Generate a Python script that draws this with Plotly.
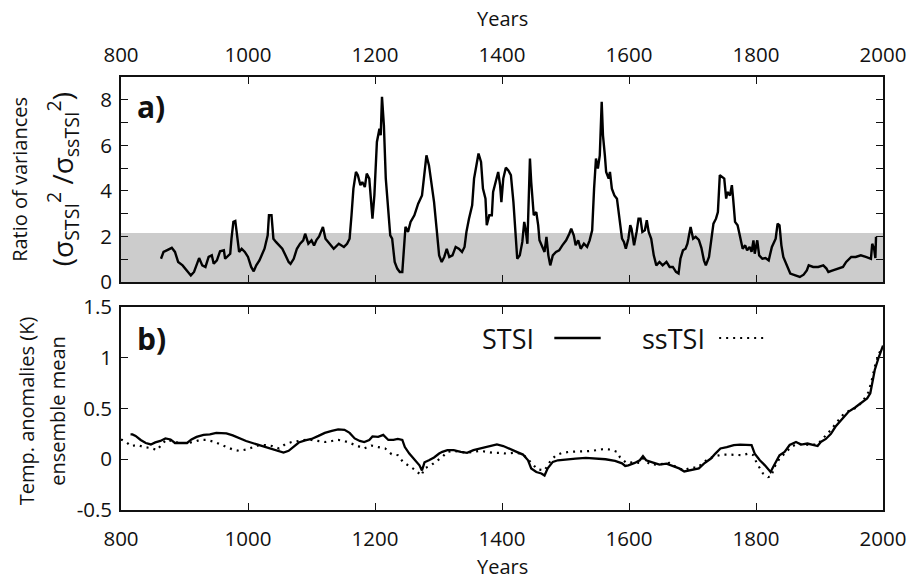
import plotly.graph_objects as go

# ---------------- data ----------------
ratio_years = [863, 867, 872, 880, 885, 890, 897, 905, 910, 915, 920, 923, 928, 933, 938, 943, 946, 951, 956, 962,
               964, 969, 972, 974, 977, 980, 982, 986, 990, 995, 1000, 1005, 1009, 1013, 1018, 1026, 1031, 1033, 1037, 1040,
               1044, 1049, 1054, 1059, 1064, 1067, 1072, 1077, 1082, 1087, 1090, 1095, 1100, 1104, 1108, 1112, 1115, 1118, 1122, 1130,
               1135, 1143, 1151, 1156, 1160, 1163, 1166, 1170, 1173, 1177, 1180, 1184, 1187, 1191, 1194, 1196, 1199, 1203, 1207, 1209,
               1211, 1214, 1217, 1221, 1224, 1227, 1231, 1235, 1239, 1243, 1246, 1248, 1252, 1256, 1262, 1268, 1274, 1278, 1281, 1285,
               1289, 1293, 1297, 1301, 1305, 1309, 1313, 1317, 1322, 1327, 1332, 1337, 1341, 1344, 1348, 1353, 1356, 1361, 1363, 1367,
               1370, 1374, 1376, 1380, 1384, 1386, 1391, 1394, 1397, 1399, 1402, 1406, 1410, 1414, 1418, 1421, 1424, 1428, 1432, 1435,
               1437, 1440, 1444, 1446, 1450, 1454, 1457, 1459, 1463, 1467, 1470, 1473, 1476, 1480, 1485, 1490, 1495, 1501, 1506, 1509,
               1513, 1516, 1520, 1524, 1529, 1534, 1538, 1542, 1545, 1548, 1551, 1554, 1557, 1559, 1562, 1564, 1568, 1570, 1573, 1577,
               1581, 1585, 1589, 1592, 1595, 1599, 1602, 1604, 1608, 1612, 1615, 1618, 1621, 1625, 1628, 1631, 1635, 1639, 1643, 1648,
               1653, 1659, 1664, 1669, 1674, 1678, 1681, 1685, 1689, 1692, 1697, 1701, 1705, 1710, 1714, 1718, 1721, 1726, 1729, 1733,
               1737, 1740, 1743, 1747, 1750, 1753, 1755, 1759, 1762, 1764, 1767, 1771, 1775, 1779, 1783, 1786, 1790, 1793, 1796, 1798,
               1802, 1805, 1810, 1815, 1820, 1825, 1831, 1834, 1837, 1840, 1843, 1849, 1854, 1862, 1869, 1875, 1880, 1883, 1890, 1898,
               1906, 1911, 1914, 1921, 1929, 1937, 1942, 1950, 1957, 1965, 1973, 1981, 1983, 1986, 1988, 1989]
ratio_values = [1.02, 1.32, 1.39, 1.50, 1.32, 0.88, 0.73, 0.44, 0.29, 0.44, 0.88, 1.05, 0.73, 0.66, 1.10, 1.17, 0.80, 0.95, 1.35, 1.39,
                1.02, 1.17, 1.24, 1.90, 2.64, 2.68, 2.20, 1.32, 1.46, 1.32, 1.10, 0.66, 0.47, 0.73, 0.95, 1.46, 2.05, 2.93, 2.93, 1.90,
                1.76, 1.61, 1.46, 1.17, 0.88, 0.80, 1.02, 1.46, 1.68, 1.83, 2.12, 1.68, 1.83, 1.60, 1.85, 2.00, 2.20, 2.42, 1.90, 1.61,
                1.46, 1.68, 1.54, 1.68, 1.90, 2.93, 4.10, 4.83, 4.69, 4.25, 4.39, 4.17, 4.76, 4.54, 3.37, 2.78, 3.80, 6.15, 6.73, 6.44,
                8.13, 6.88, 4.54, 3.22, 2.05, 1.90, 0.88, 0.59, 0.44, 0.44, 1.46, 2.42, 2.20, 2.64, 2.93, 3.44, 3.80, 4.69, 5.56, 5.12,
                4.39, 3.51, 2.34, 1.17, 0.88, 1.10, 1.46, 1.10, 1.17, 1.54, 1.46, 1.32, 1.54, 2.20, 2.78, 3.37, 4.54, 5.27, 5.64, 5.27,
                4.10, 3.66, 2.49, 2.93, 2.93, 3.95, 4.54, 4.83, 4.25, 3.51, 4.54, 5.02, 4.90, 4.69, 3.51, 2.34, 1.02, 1.17, 1.76, 2.64,
                2.34, 1.68, 5.42, 4.39, 2.93, 3.07, 2.49, 1.83, 1.61, 1.32, 1.98, 1.17, 0.73, 1.17, 1.32, 1.39, 1.61, 1.83, 2.12, 2.34,
                2.05, 1.61, 1.83, 1.46, 1.68, 1.54, 1.83, 2.27, 4.10, 5.42, 4.98, 5.56, 7.91, 6.44, 5.56, 4.83, 4.54, 4.83, 4.10, 3.80,
                3.66, 2.78, 1.90, 1.76, 1.46, 1.90, 2.49, 2.34, 1.61, 2.20, 2.78, 2.78, 2.20, 2.27, 2.71, 2.20, 1.90, 1.17, 0.73, 0.88,
                0.73, 0.88, 0.66, 0.66, 0.44, 0.37, 1.02, 1.39, 1.46, 1.68, 2.42, 1.90, 1.98, 1.85, 1.50, 0.95, 0.73, 1.10, 1.76, 2.56,
                2.78, 3.07, 4.69, 4.61, 4.54, 3.66, 3.95, 3.80, 4.25, 3.66, 2.64, 2.49, 1.90, 1.46, 1.61, 1.39, 1.54, 1.32, 1.83, 1.24,
                1.83, 1.17, 1.02, 1.05, 0.95, 1.54, 1.90, 2.56, 2.49, 1.61, 1.10, 0.66, 0.37, 0.29, 0.22, 0.32, 0.51, 0.73, 0.66, 0.66,
                0.73, 0.59, 0.44, 0.51, 0.59, 0.66, 0.88, 1.10, 1.10, 1.17, 1.10, 1.02, 1.68, 1.46, 1.05, 1.98]

stsi_years = [815, 818, 823, 831, 839, 847, 854, 862, 870, 878, 885, 893, 904, 911, 919, 930, 940, 950, 955, 966,
              976, 986, 997, 1007, 1018, 1028, 1038, 1049, 1056, 1064, 1072, 1080, 1090, 1100, 1111, 1121, 1132, 1142, 1152, 1160,
              1168, 1176, 1183, 1191, 1196, 1205, 1213, 1221, 1229, 1236, 1243, 1247, 1254, 1262, 1270, 1274, 1278, 1285, 1293, 1301,
              1306, 1314, 1324, 1335, 1345, 1355, 1366, 1374, 1384, 1392, 1402, 1412, 1423, 1433, 1441, 1446, 1454, 1462, 1467, 1472,
              1480, 1488, 1500, 1516, 1532, 1547, 1563, 1578, 1589, 1594, 1599, 1609, 1617, 1622, 1627, 1638, 1648, 1659, 1669, 1679,
              1687, 1695, 1703, 1710, 1718, 1729, 1736, 1744, 1754, 1765, 1775, 1785, 1793, 1798, 1806, 1814, 1819, 1823, 1827, 1832,
              1837, 1845, 1853, 1863, 1871, 1881, 1889, 1897, 1902, 1910, 1918, 1925, 1936, 1946, 1956, 1967, 1975, 1980, 1983, 1987,
              1993, 1998, 2000]
stsi_values = [0.245, 0.245, 0.23, 0.19, 0.16, 0.146, 0.166, 0.18, 0.205, 0.195, 0.16, 0.16, 0.16, 0.195, 0.22, 0.24, 0.245, 0.26, 0.26, 0.255,
               0.235, 0.205, 0.18, 0.16, 0.14, 0.12, 0.10, 0.08, 0.066, 0.083, 0.12, 0.165, 0.185, 0.20, 0.23, 0.26, 0.28, 0.295, 0.29, 0.26,
               0.205, 0.18, 0.17, 0.19, 0.225, 0.22, 0.24, 0.19, 0.19, 0.20, 0.19, 0.12, 0.056, 0.0, -0.06, -0.11, -0.03, -0.01, 0.017, 0.056,
               0.073, 0.09, 0.09, 0.073, 0.063, 0.09, 0.106, 0.12, 0.13, 0.146, 0.13, 0.10, 0.073, 0.046, -0.01, -0.09, -0.126, -0.14, -0.16, -0.09,
               -0.026, -0.01, 0.0, 0.007, 0.013, 0.007, 0.0, -0.017, -0.04, -0.066, -0.06, -0.036, -0.01, 0.03, -0.01, -0.033, -0.053, -0.043, -0.07, -0.09,
               -0.12, -0.11, -0.10, -0.09, -0.043, 0.007, 0.056, 0.106, 0.12, 0.14, 0.145, 0.14, 0.14, 0.056, -0.01, -0.06, -0.10, -0.125, -0.076, -0.01,
               0.04, 0.073, 0.14, 0.17, 0.145, 0.155, 0.14, 0.13, 0.17, 0.20, 0.25, 0.32, 0.40, 0.47, 0.51, 0.56, 0.60, 0.65, 0.75, 0.88,
               1.00, 1.10, 1.12]

sstsi_years = [800, 808, 816, 826, 836, 847, 857, 865, 873, 883, 893, 904, 914, 924, 935, 948, 955, 966, 976, 986,
               997, 1007, 1018, 1028, 1038, 1049, 1059, 1069, 1080, 1090, 1100, 1111, 1121, 1132, 1142, 1152, 1163, 1173, 1183, 1194,
               1205, 1216, 1226, 1236, 1244, 1252, 1262, 1273, 1278, 1288, 1298, 1306, 1314, 1324, 1335, 1345, 1355, 1366, 1376, 1386,
               1397, 1407, 1418, 1430, 1436, 1446, 1456, 1467, 1477, 1485, 1495, 1506, 1516, 1526, 1537, 1550, 1560, 1570, 1581, 1586,
               1596, 1607, 1617, 1622, 1633, 1643, 1653, 1664, 1674, 1687, 1697, 1708, 1716, 1726, 1736, 1747, 1757, 1767, 1778, 1788,
               1796, 1801, 1806, 1811, 1819, 1824, 1829, 1837, 1845, 1855, 1866, 1876, 1886, 1897, 1907, 1918, 1928, 1938, 1949, 1959,
               1969, 1977, 1982, 1987, 1993, 1998]
sstsi_values = [0.195, 0.17, 0.13, 0.14, 0.12, 0.11, 0.09, 0.155, 0.195, 0.17, 0.16, 0.16, 0.17, 0.19, 0.19, 0.17, 0.15, 0.12, 0.096, 0.083,
                0.096, 0.116, 0.14, 0.14, 0.13, 0.106, 0.15, 0.17, 0.18, 0.19, 0.19, 0.18, 0.17, 0.18, 0.19, 0.18, 0.15, 0.13, 0.106, 0.135,
                0.12, 0.106, 0.05, 0.04, -0.026, -0.06, -0.10, -0.16, -0.09, -0.06, -0.01, 0.023, 0.073, 0.083, 0.073, 0.063, 0.073, 0.083, 0.073, 0.063,
                0.063, 0.056, 0.063, 0.056, 0.03, -0.033, -0.10, -0.11, -0.01, 0.04, 0.063, 0.073, 0.073, 0.08, 0.08, 0.09, 0.10, 0.096, 0.073, 0.017,
                -0.036, -0.03, -0.036, 0.007, -0.05, -0.053, -0.043, -0.036, -0.076, -0.11, -0.083, -0.083, -0.036, 0.007, 0.03, 0.046, 0.046, 0.046, 0.04, 0.056,
                0.04, -0.036, -0.09, -0.14, -0.175, -0.17, -0.076, 0.007, 0.056, 0.12, 0.155, 0.14, 0.145, 0.145, 0.215, 0.29, 0.37, 0.445, 0.485, 0.51,
                0.58, 0.66, 0.77, 0.91, 1.03, 1.10]

band_top = 2.15  # upper limit of grey band in panel a
year_ticks = [800, 1000, 1200, 1400, 1600, 1800, 2000]
ratio_tickvals = [0, 1, 2, 3, 4, 5, 6, 7, 8]
ratio_ticktext = ["0", "", "2", "", "4", "", "6", "", "8"]
temp_tickvals = [-0.5, 0, 0.5, 1, 1.5]
temp_ticktext = ["-0.5", "0", "0.5", "1", "1.5"]

# ---------------- figure ----------------
FONT = "Open Sans"
L, R, T, B = 121, 25, 77, 73
W, H = 918, 583
PH = H - T - B


def py(p):  # pixel y -> paper
    return (H - B - p) / PH


def px(p):  # pixel x -> paper
    return (p - L) / (W - L - R)


fig = go.Figure()
fig.add_trace(go.Scatter(x=ratio_years, y=ratio_values, mode="lines", xaxis="x", yaxis="y",
                         line=dict(color="black", width=2.4), showlegend=False))
fig.add_trace(go.Scatter(x=stsi_years, y=stsi_values, mode="lines", xaxis="x2", yaxis="y2",
                         line=dict(color="black", width=2.3), showlegend=False))
fig.add_trace(go.Scatter(x=sstsi_years, y=sstsi_values, mode="lines", xaxis="x2", yaxis="y2",
                         line=dict(color="black", width=2.2, dash="2px,5px"), showlegend=False))

axis_common = dict(showgrid=False, zeroline=False, showline=True, linecolor="#111", linewidth=1.6,
                   mirror="ticks", ticks="inside", ticklen=7, tickwidth=1.2, tickcolor="#111",
                   tickfont=dict(family=FONT, size=20.5, color="#111"))

fig.update_layout(
    width=W, height=H, margin=dict(l=L, r=R, t=T, b=B),
    paper_bgcolor="white", plot_bgcolor="white",
    xaxis=dict(domain=[0, 1], anchor="y", side="top", range=[800, 2000], tickvals=year_ticks,
               ticklabelstandoff=5, **axis_common),
    yaxis=dict(domain=[py(282), 1], anchor="x", range=[0, 9], tickvals=ratio_tickvals,
               ticktext=ratio_ticktext, ticklabelstandoff=3, **axis_common),
    xaxis2=dict(domain=[0, 1], anchor="y2", range=[800, 2000], tickvals=year_ticks,
                ticklabelstandoff=10, **axis_common),
    yaxis2=dict(domain=[0, 1 - (307 - T) / PH], anchor="x2", range=[-0.5, 1.5], tickvals=temp_tickvals,
                ticktext=temp_ticktext, ticklabelstandoff=3, **axis_common),
)

fig.add_shape(type="rect", xref="x", yref="y", x0=800, x1=2000, y0=0, y1=band_top,
              fillcolor="#cccccc", line=dict(width=0), layer="below")

# legend samples (panel b)
fig.add_shape(type="line", xref="paper", yref="paper", x0=px(560), x1=px(607), y0=py(338), y1=py(338),
              line=dict(color="black", width=2.3))
fig.add_shape(type="line", xref="paper", yref="paper", x0=px(727), x1=px(774), y0=py(338), y1=py(338),
              line=dict(color="black", width=2.0, dash="2px,5px"))

ann = []
def A(text, x, y, size, angle=0, xanchor="center"):
    ann.append(dict(text=text, x=px(x), y=py(y), xref="paper", yref="paper", showarrow=False,
                    xanchor=xanchor, yanchor="middle", textangle=angle,
                    font=dict(family=FONT, size=size, color="#111")))

A("STSI", 513, 338, 27)
A("ssTSI", 681, 338, 27)
A("<b>a)</b>", 135, 106, 30, xanchor="left")
A("<b>b)</b>", 135, 338, 30, xanchor="left")
A("Years", 507, 19, 20)
A("Years", 507, 566, 20)
A("Ratio of variances", 18, 179.5, 20, angle=-90)
A("(σ<sub>STSI</sub><sup>2</sup> /σ<sub>ssTSI</sub><sup>2</sup>)", 62, 179.5, 28, angle=-90)
A("Temp. anomalies (K)", 25, 411, 20, angle=-90)
A("ensemble mean", 56, 411, 20, angle=-90)
fig.update_layout(annotations=ann)

fig.write_html("out.html")
